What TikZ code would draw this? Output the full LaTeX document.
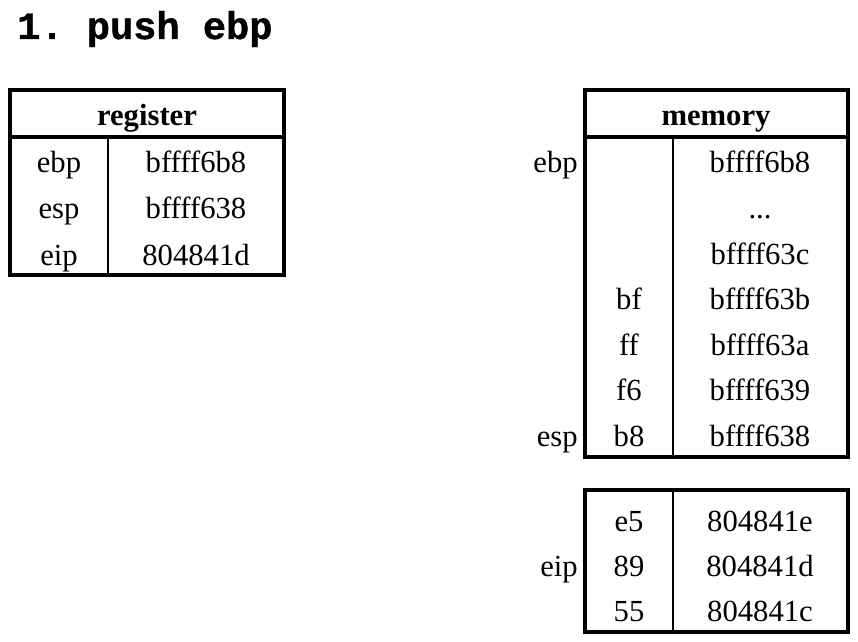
\documentclass[tikz,border=0pt]{standalone}
\usepackage{fontspec}
\setmainfont{Liberation Serif}
\newfontfamily\titlefont[BoldFeatures={FakeBold=1}]{Liberation Mono}
\begin{document}
\begin{tikzpicture}[x=0.75pt,y=-0.75pt,
  cell/.style={anchor=base,inner sep=0pt,font=\fontsize{23}{26}\selectfont},
  head/.style={cell,font=\fontsize{23}{26}\selectfont\bfseries},
  lab/.style={anchor=base east,inner sep=0pt,font=\fontsize{23}{26}\selectfont},
  outer/.style={line width=2.4pt},
  inner/.style={line width=1.1pt}]
\useasboundingbox (0,0) rectangle (858,642);
\node[anchor=base west,inner sep=0pt,font=\titlefont\bfseries\fontsize{29}{32}\selectfont\frenchspacing] (title) at (17,39) {1. push ebp};
% register table
\draw[outer] (10,90) rectangle (284,275);
\draw[outer] (10,137) -- (284,137);
\draw[inner] (108,137) -- (108,275);
\node[head] (rh) at (147,126) {register};
\node[cell] (r1a) at (59,173) {ebp};
\node[cell] (r1b) at (196,173) {bffff6b8};
\node[cell] (r2a) at (59,219) {esp};
\node[cell] (r2b) at (196,219) {bffff638};
\node[cell] (r3a) at (59,265) {eip};
\node[cell] (r3b) at (196,265) {804841d};
% memory table
\draw[outer] (585,90) rectangle (848,457);
\draw[outer] (585,137) -- (848,137);
\draw[inner] (673,137) -- (673,457);
\node[head] (mh) at (716,126) {memory};
\node[cell] (m1) at (760,173) {bffff6b8};
\node[cell] (m2) at (760,218.5) {...};
\node[cell] (m3) at (760,264) {bffff63c};
\node[cell] (m4a) at (629,309.5) {bf};
\node[cell] (m4b) at (760,309.5) {bffff63b};
\node[cell] (m5a) at (629,355) {ff};
\node[cell] (m5b) at (760,355) {bffff63a};
\node[cell] (m6a) at (629,400.5) {f6};
\node[cell] (m6b) at (760,400.5) {bffff639};
\node[cell] (m7a) at (629,446) {b8};
\node[cell] (m7b) at (760,446) {bffff638};
\node[lab] (lebp) at (578,173) {ebp};
\node[lab] (lesp) at (578,446) {esp};
% code table
\draw[outer] (585,490) rectangle (848,632);
\draw[inner] (673,490) -- (673,632);
\node[cell] (c1a) at (629,531) {e5};
\node[cell] (c1b) at (760,531) {804841e};
\node[cell] (c2a) at (629,576) {89};
\node[cell] (c2b) at (760,576) {804841d};
\node[cell] (c3a) at (629,621) {55};
\node[cell] (c3b) at (760,621) {804841c};
\node[lab] (leip) at (578,576) {eip};
\end{tikzpicture}
\end{document}
